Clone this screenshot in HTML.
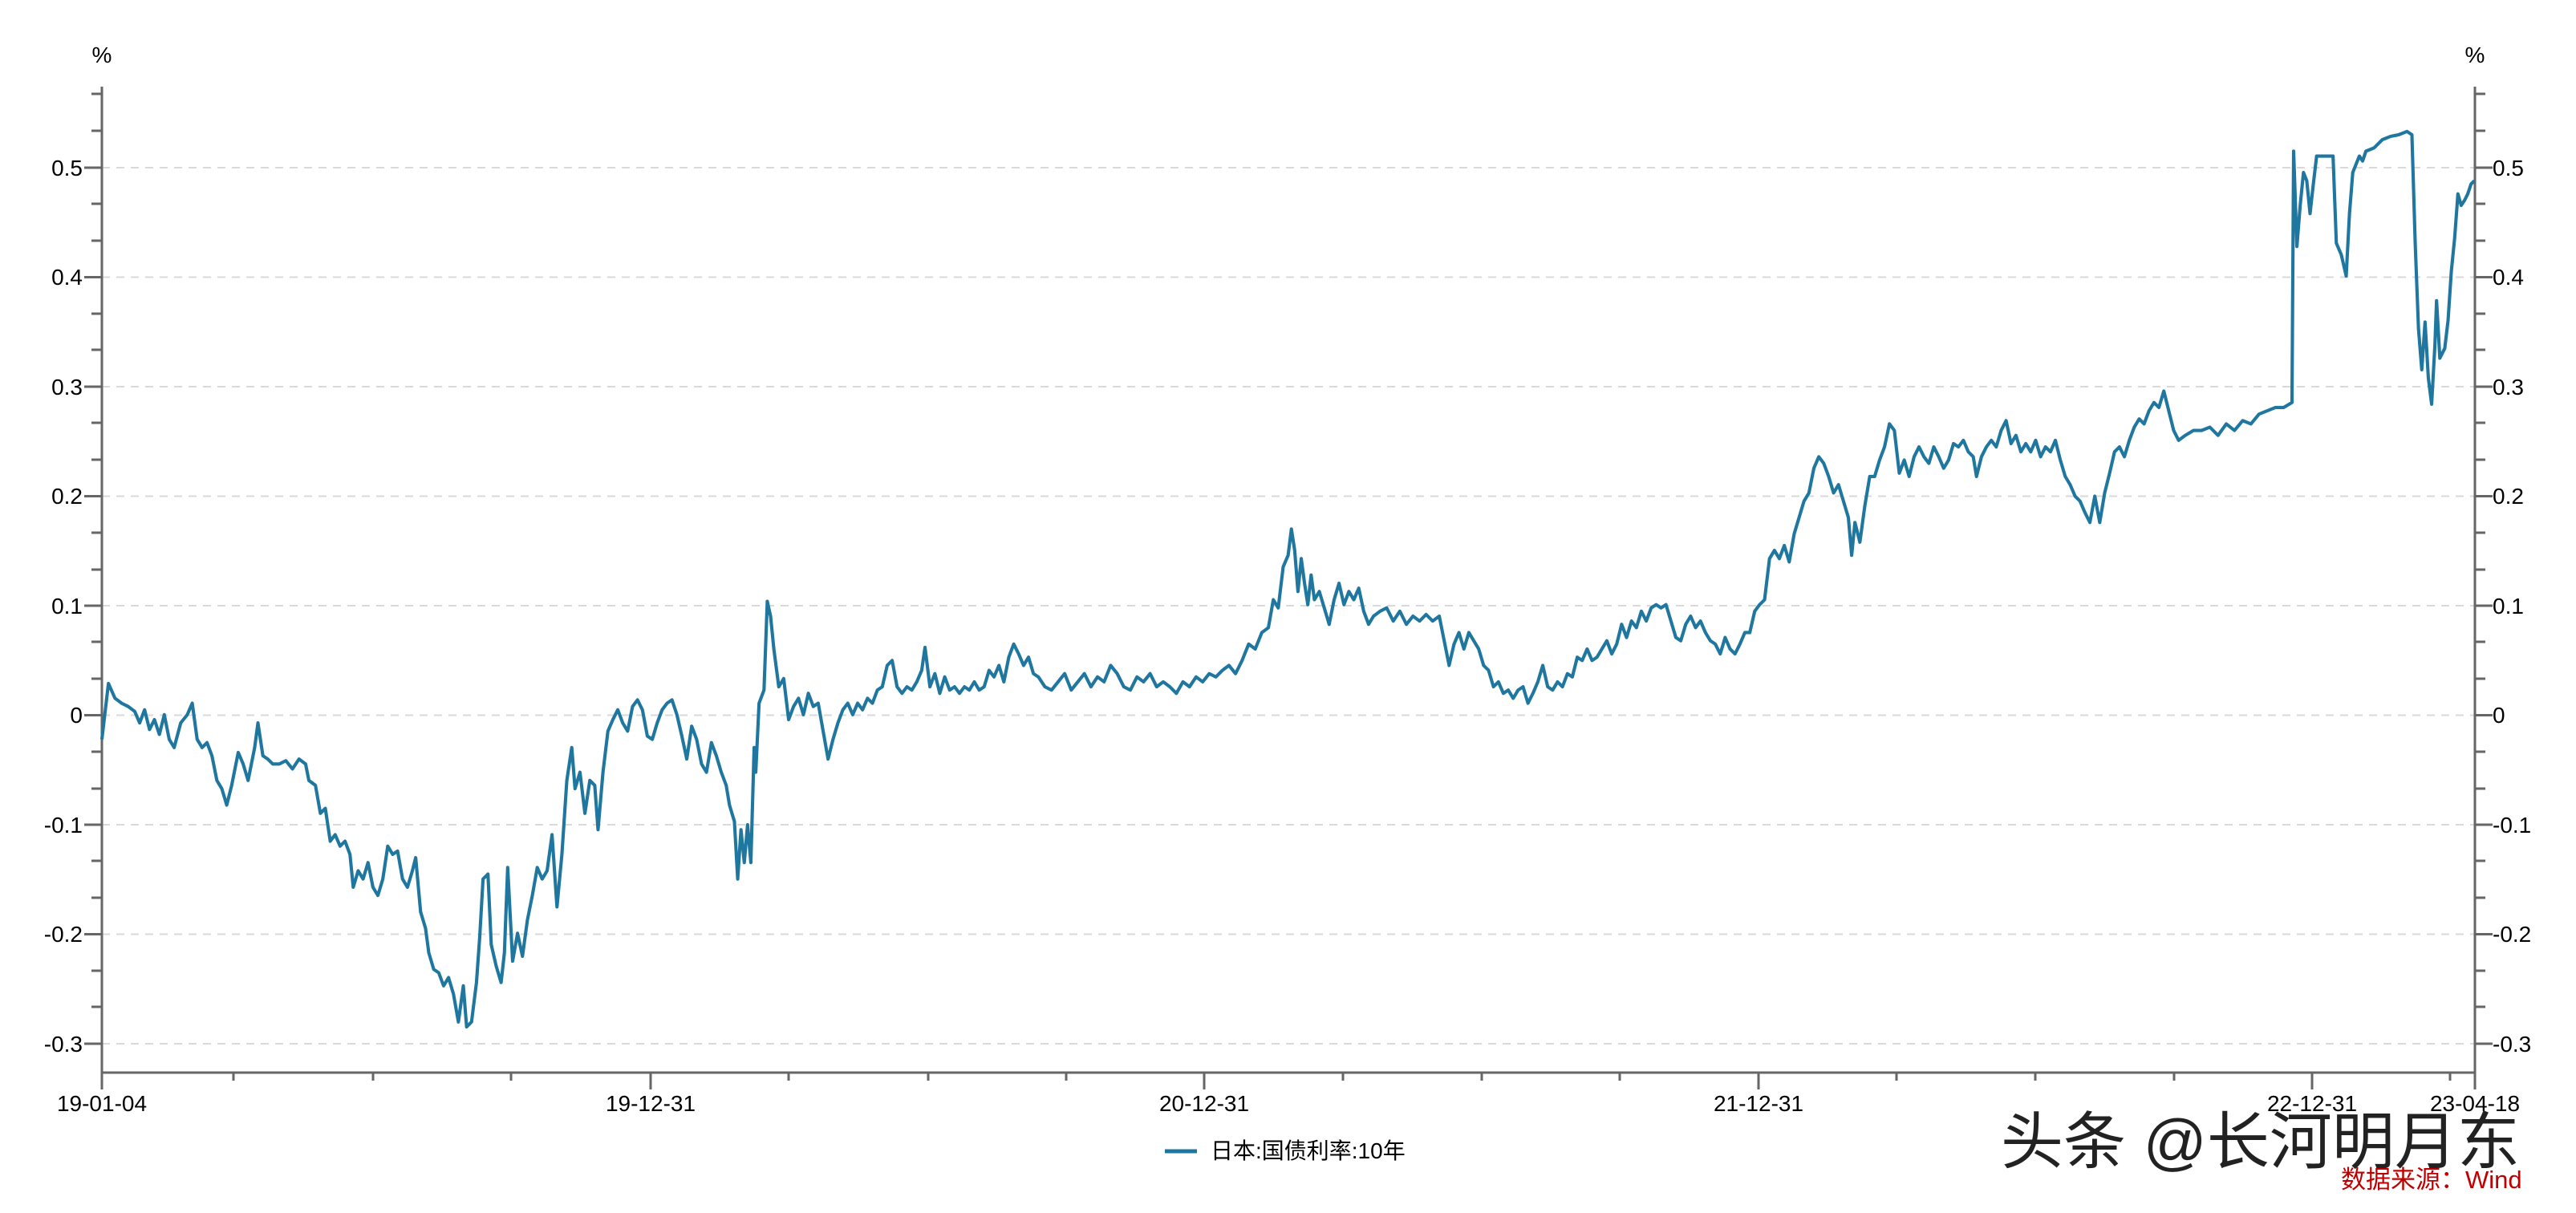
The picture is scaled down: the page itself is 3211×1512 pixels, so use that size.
<!DOCTYPE html>
<html><head><meta charset="utf-8"><style>
html,body{margin:0;padding:0;background:#fff}
svg{display:block}
text{font-family:"Liberation Sans","Noto Sans CJK SC",sans-serif}
</style></head><body>
<svg width="3211" height="1512" viewBox="0 0 3211 1512" xmlns="http://www.w3.org/2000/svg">
<g stroke="#d9d9d9" stroke-width="2" stroke-dasharray="10,8">
<line x1="127" y1="209" x2="3085" y2="209"/>
<line x1="127" y1="345.5" x2="3085" y2="345.5"/>
<line x1="127" y1="482" x2="3085" y2="482"/>
<line x1="127" y1="618.5" x2="3085" y2="618.5"/>
<line x1="127" y1="755" x2="3085" y2="755"/>
<line x1="127" y1="891.5" x2="3085" y2="891.5"/>
<line x1="127" y1="1028" x2="3085" y2="1028"/>
<line x1="127" y1="1164.5" x2="3085" y2="1164.5"/>
<line x1="127" y1="1301" x2="3085" y2="1301"/>
</g>
<g stroke="#666" stroke-width="3" fill="none">
<line x1="127" y1="108" x2="127" y2="1338"/>
<line x1="3085" y1="108" x2="3085" y2="1358"/>
<line x1="126" y1="1337" x2="3086" y2="1337"/>
<path id="lt" d="M114 117H127M114 163H127M105 209H127M114 254H127M114 300H127M105 345.5H127M114 391H127M114 436H127M105 482H127M114 527H127M114 573H127M105 618.5H127M114 664H127M114 710H127M105 755H127M114 800H127M114 846H127M105 891.5H127M114 937H127M114 983H127M105 1028H127M114 1073H127M114 1119H127M105 1164.5H127M114 1210H127M114 1255H127M105 1301H127"/>
<use href="#lt" transform="translate(3212,0) scale(-1,1)"/>
<path d="M127 1337V1358M811 1337V1358M1501 1337V1358M2192 1337V1358M2882 1337V1358M291 1337V1347M465 1337V1347M637 1337V1347M983 1337V1347M1157 1337V1347M1329 1337V1347M1674 1337V1347M1847 1337V1347M2019 1337V1347M2364 1337V1347M2537 1337V1347M2710 1337V1347M3054 1337V1347"/>
</g>
<g font-size="28" fill="#000">
<text x="127" y="78" text-anchor="middle">%</text>
<text x="3085" y="78" text-anchor="middle">%</text>
<g text-anchor="end">
<text x="103" y="219">0.5</text><text x="103" y="355">0.4</text><text x="103" y="492">0.3</text><text x="103" y="628">0.2</text><text x="103" y="765">0.1</text><text x="103" y="901">0</text><text x="103" y="1038">-0.1</text><text x="103" y="1174">-0.2</text><text x="103" y="1311">-0.3</text>
</g>
<g text-anchor="start">
<text x="3107" y="219">0.5</text><text x="3107" y="355">0.4</text><text x="3107" y="492">0.3</text><text x="3107" y="628">0.2</text><text x="3107" y="765">0.1</text><text x="3107" y="901">0</text><text x="3107" y="1038">-0.1</text><text x="3107" y="1174">-0.2</text><text x="3107" y="1311">-0.3</text>
</g>
<g text-anchor="middle">
<text x="127" y="1385">19-01-04</text><text x="811" y="1385">19-12-31</text><text x="1501" y="1385">20-12-31</text><text x="2192" y="1385">21-12-31</text><text x="2882" y="1385">22-12-31</text><text x="3085" y="1385">23-04-18</text>
</g>
<text x="1509" y="1444">日本:国债利率:10年</text>
</g>
<line x1="1452" y1="1435" x2="1492" y2="1435" stroke="#1f77a0" stroke-width="5"/>
<text x="2494" y="1450" font-size="78" fill="#222">头条 @长河明月东</text>
<text x="2918" y="1481" font-size="31" fill="#c00000">数据来源：Wind</text>
<g transform="scale(2.048)">
<polyline fill="none" stroke="#1f77a0" stroke-width="2" stroke-linejoin="round" points="62,450 66,416 70,425 74,428 78,430 82,433 85,440 88,432 91,444 94,438 97,447 100,435 103,450 106,455 110,440 114,435 117,428 120,450 123,455 126,452 129,460 132,475 135,480 138,490 141,478 145,458 148,465 151,475 155,455 157,440 160,460 163,462 166,465 170,465 174,463 178,468 182,462 186,465 188,475 192,478 195,495 198,492 201,512 204,508 207,515 210,512 213,520 215,540 218,530 221,535 224,525 227,540 230,545 233,535 236,515 239,520 242,518 245,535 248,540 251,530 253,522 256,555 259,565 261,580 264,590 267,592 270,600 273,595 276,605 279,622 282,600 284,625 287,622 290,598 292,570 294,535 297,532 299,575 302,588 305,598 307,580 309,528 312,585 315,568 318,582 321,560 324,545 327,528 330,535 333,530 336,508 339,552 342,520 345,475 348,455 350,480 353,470 356,495 359,475 362,478 364,505 367,470 370,445 373,438 376,432 379,440 382,445 385,430 388,426 391,432 394,448 397,450 400,440 403,432 406,428 409,426 412,435 415,448 418,462 421,442 424,450 427,465 430,470 433,452 436,460 439,470 442,478 444,490 447,500 449,535 451,505 453,525 455,502 457,525 459,455 460,470 462,428 465,420 467,366 469,375 471,395 474,418 477,413 480,438 483,430 486,425 489,435 492,422 495,430 498,428 501,445 504,462 507,450 510,440 513,432 516,428 519,435 522,428 525,432 528,425 531,428 534,420 537,418 540,405 543,402 546,418 549,422 552,418 555,420 558,415 561,408 563,394 566,418 569,410 572,422 575,412 578,420 581,418 584,422 587,418 590,420 593,415 596,420 599,418 602,408 605,412 608,405 611,415 614,400 617,392 620,398 623,405 626,400 629,410 632,412 636,418 640,420 644,415 648,410 652,420 656,415 660,410 664,418 668,412 672,415 676,405 680,410 684,418 688,420 692,412 696,415 700,410 704,418 708,415 712,418 716,422 720,415 724,418 728,412 732,415 736,410 740,412 744,408 748,405 752,410 756,402 760,392 764,395 768,385 772,382 775,365 778,370 781,345 784,338 786,322 788,335 790,360 792,340 794,355 796,368 798,350 800,365 803,360 806,370 809,380 812,365 815,355 818,368 821,360 824,365 827,358 830,372 833,380 836,375 840,372 844,370 848,378 852,372 856,380 860,375 864,378 868,374 872,378 876,375 879,390 882,405 885,392 888,385 891,395 894,385 897,390 900,395 903,405 906,408 909,418 912,415 915,422 918,420 921,425 924,420 927,418 930,428 933,422 936,415 939,405 942,418 945,420 948,415 951,418 954,410 957,412 960,400 963,402 966,395 969,402 972,400 975,395 978,390 981,398 984,392 987,380 990,388 993,378 996,382 999,372 1002,378 1005,370 1008,368 1011,370 1014,368 1017,378 1020,388 1023,390 1026,380 1029,375 1032,382 1035,378 1038,385 1041,390 1044,392 1047,398 1050,388 1053,395 1056,398 1059,392 1062,385 1065,385 1068,372 1071,368 1074,365 1077,340 1080,335 1083,340 1086,332 1089,342 1092,325 1095,315 1098,305 1101,300 1104,285 1107,278 1110,282 1113,290 1116,300 1119,295 1122,305 1125,315 1127,338 1129,318 1132,330 1135,308 1138,290 1141,290 1144,280 1147,272 1150,258 1153,262 1156,288 1159,280 1162,290 1165,278 1168,272 1171,278 1174,282 1177,272 1180,278 1183,285 1186,280 1189,270 1192,272 1195,268 1198,275 1201,278 1203,290 1206,278 1209,272 1212,268 1215,272 1218,262 1221,256 1224,270 1227,265 1230,275 1233,270 1236,275 1239,268 1242,278 1245,272 1248,275 1251,268 1254,280 1257,290 1260,295 1263,302 1266,305 1269,312 1272,318 1275,302 1278,318 1281,300 1284,288 1287,275 1290,272 1293,278 1296,268 1299,260 1302,255 1305,258 1308,250 1311,245 1314,248 1317,238 1320,250 1323,262 1326,268 1330,265 1335,262 1340,262 1345,260 1350,265 1355,258 1360,262 1365,256 1370,258 1375,252 1380,250 1385,248 1390,248 1395,245 1396,92 1398,150 1400,125 1402,105 1404,110 1406,130 1408,112 1410,95 1420,95 1422,148 1425,155 1428,168 1430,130 1432,105 1434,100 1436,95 1438,98 1440,92 1445,90 1450,85 1455,83 1460,82 1465,80 1468,82 1470,148 1472,200 1474,225 1476,196 1478,230 1480,246 1482,210 1483,183 1485,218 1488,212 1490,195 1492,165 1494,145 1496,118 1498,125 1500,122 1502,118 1504,112 1506,110"/>
</g>
</svg>
</body></html>
